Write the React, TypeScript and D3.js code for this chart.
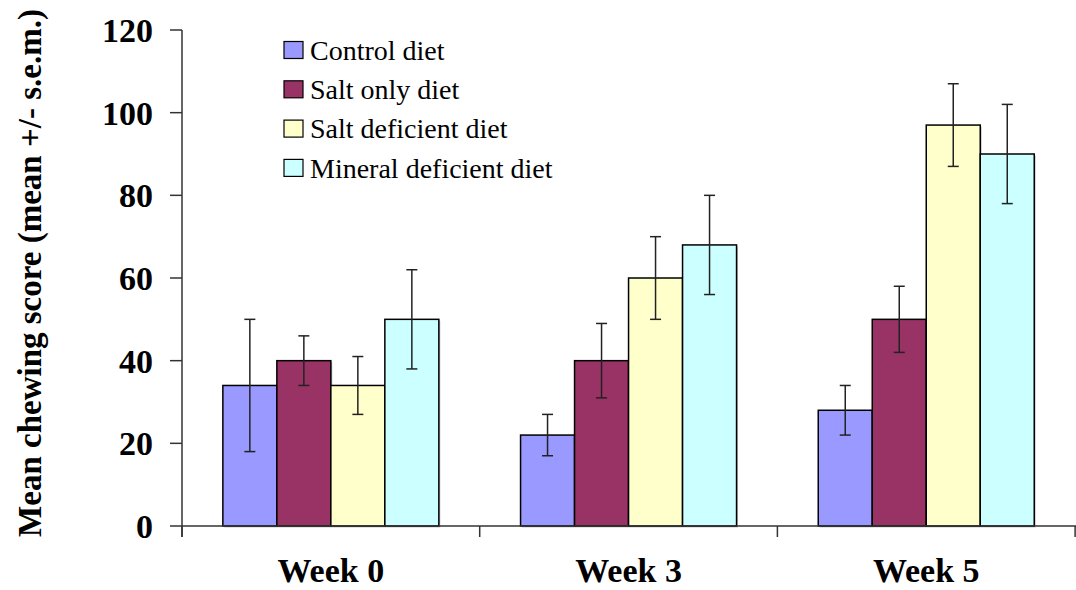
import React from "react";
import * as d3 from "d3";

const categories = ["Week 0", "Week 3", "Week 5"];
const seriesNames = ["Control diet", "Salt only diet", "Salt deficient diet", "Mineral deficient diet"];
const seriesColors = ["#9999FF", "#993366", "#FFFFCC", "#CCFFFF"];
const means = [
  [34, 22, 28],
  [40, 40, 50],
  [34, 60, 97],
  [50, 68, 90],
];
const errLow = [
  [18, 17, 22],
  [34, 31, 42],
  [27, 50, 87],
  [38, 56, 78],
];
const errHigh = [
  [50, 27, 34],
  [46, 49, 58],
  [41, 70, 107],
  [62, 80, 102],
];
const yTicks = [0, 20, 40, 60, 80, 100, 120];

export default function App() {
  const W = 1076, H = 590;
  const left = 182, right = 1076, top = 30, bottom = 526;
  const x0 = d3.scaleBand<string>().domain(categories).range([left, left + 3 * 297.7]).paddingInner(0).paddingOuter(0);
  const x1 = d3.scaleBand<number>().domain([0, 1, 2, 3]).range([0, x0.bandwidth()]).paddingInner(0).paddingOuter(41 / 54.2);
  const y = d3.scaleLinear().domain([0, 120]).range([bottom, top]);
  const font = "'Liberation Serif', 'Times New Roman', serif";
  const bw = x1.bandwidth();
  const boundaries = [0, 1, 2, 3].map((i) => left + i * x0.step());

  return (
    <svg width={W} height={H} style={{ position: "absolute", left: 0, top: 0 }} fontFamily={font}>
      <rect width={W} height={H} fill="white" />
      {seriesNames.map((s, si) =>
        categories.map((c, ci) => {
          const bx = (x0(c) as number) + (x1(si) as number);
          const by = y(means[si][ci]);
          return (
            <g key={s + c}>
              <rect x={bx + 1.5} y={by + 1.5} width={bw} height={bottom - by} fill="#c8c8c8" />
              <rect x={bx} y={by} width={bw} height={bottom - by} fill={seriesColors[si]} stroke="#000" strokeWidth={1.5} />
            </g>
          );
        })
      )}
      <line x1={left} x2={left} y1={top} y2={bottom + 11} stroke="#333" strokeWidth={1.5} />
      <line x1={left} x2={right} y1={bottom} y2={bottom} stroke="#333" strokeWidth={1.5} />
      {yTicks.map((t) => (
        <g key={t}>
          <line x1={left - 12} x2={left} y1={y(t)} y2={y(t)} stroke="#333" strokeWidth={1.5} />
          <text x={153} y={y(t)} dy="0.35em" textAnchor="end" fontSize={34} fontWeight="bold">
            {t}
          </text>
        </g>
      ))}
      {boundaries.map((b, i) => (
        <line key={i} x1={b} x2={b} y1={bottom} y2={bottom + 11} stroke="#333" strokeWidth={1.5} />
      ))}
      {categories.map((c) => (
        <text key={c} x={(x0(c) as number) + x0.bandwidth() / 2} y={582} textAnchor="middle" fontSize={34} fontWeight="bold">
          {c}
        </text>
      ))}
      {seriesNames.map((s, si) =>
        categories.map((c, ci) => {
          const cx = (x0(c) as number) + (x1(si) as number) + bw / 2;
          return (
            <g key={"e" + s + c} stroke="#222" strokeWidth={1.5}>
              <line x1={cx} x2={cx} y1={y(errLow[si][ci])} y2={y(errHigh[si][ci])} />
              <line x1={cx - 5.5} x2={cx + 5.5} y1={y(errLow[si][ci])} y2={y(errLow[si][ci])} />
              <line x1={cx - 5.5} x2={cx + 5.5} y1={y(errHigh[si][ci])} y2={y(errHigh[si][ci])} />
            </g>
          );
        })
      )}
      <text transform={`translate(41, 273) rotate(-90)`} textAnchor="middle" fontSize={33} fontWeight="bold">
        Mean chewing score (mean +/- s.e.m.)
      </text>
      {seriesNames.map((s, i) => {
        const ly = 50 + i * 39.3;
        return (
          <g key={"l" + s}>
            <rect x={284} y={ly - 8.5} width={19} height={17} fill={seriesColors[i]} stroke="#000" strokeWidth={1.2} />
            <text x={310} y={ly} dy="0.35em" fontSize={28}>
              {s}
            </text>
          </g>
        );
      })}
    </svg>
  );
}
